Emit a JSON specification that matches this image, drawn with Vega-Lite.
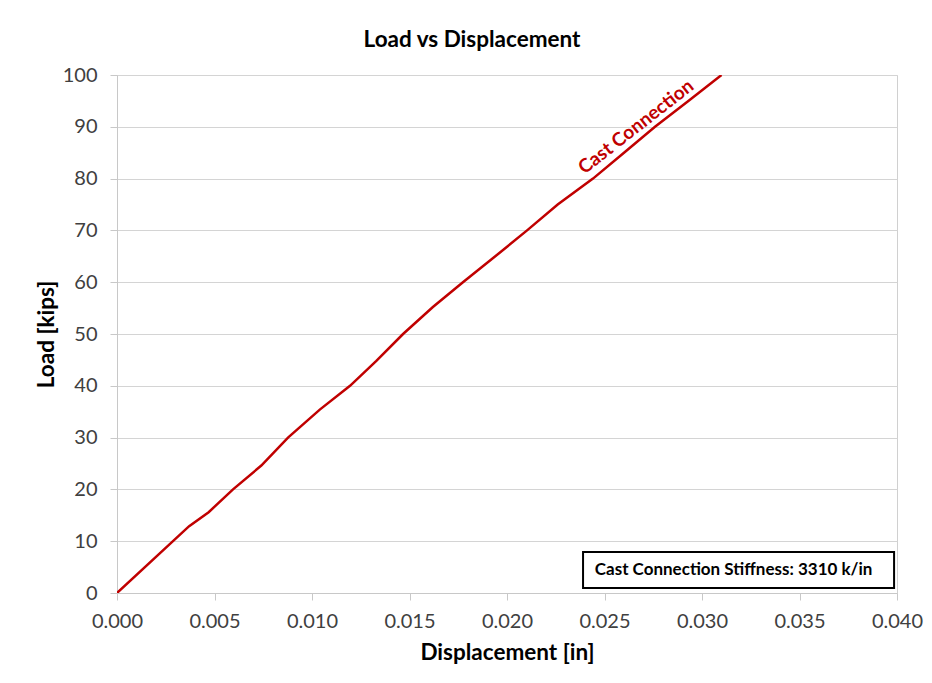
{
  "$schema": "https://vega.github.io/schema/vega-lite/v6.json",
  "width": 780,
  "height": 518,
  "autosize": "none",
  "padding": {"left": 117, "top": 75, "right": 35, "bottom": 90},
  "background": "white",
  "config": {
    "font": "Lato",
    "view": {"stroke": "#d0d0d0", "strokeWidth": 1},
    "axis": {
      "labelFont": "Lato",
      "labelFontSize": 20,
      "labelColor": "#404040",
      "labelFlush": false,
      "labelOverlap": false,
      "titleFont": "Lato",
      "titleFontWeight": "bold",
      "titleFontSize": 22.5,
      "titleColor": "#000000",
      "domainColor": "#c8c8c8",
      "tickColor": "#c8c8c8",
      "tickSize": 7,
      "gridColor": "#d4d4d4",
      "gridWidth": 1
    }
  },
  "title": {
    "text": "Load vs Displacement",
    "font": "Lato",
    "fontSize": 22.5,
    "fontWeight": "bold",
    "color": "#000000",
    "anchor": "middle",
    "dx": -35,
    "offset": 14
  },
  "layer": [
    {
      "data": {
        "values": [
          {"disp": 0.0, "load": 0.0},
          {"disp": 0.0037, "load": 12.9},
          {"disp": 0.0047, "load": 15.6},
          {"disp": 0.00595, "load": 20.0},
          {"disp": 0.0074, "load": 24.6},
          {"disp": 0.00877, "load": 30.0},
          {"disp": 0.0104, "load": 35.4},
          {"disp": 0.01195, "load": 40.0},
          {"disp": 0.0133, "load": 44.8},
          {"disp": 0.01467, "load": 50.0},
          {"disp": 0.0162, "load": 55.2},
          {"disp": 0.01774, "load": 60.0},
          {"disp": 0.0194, "load": 65.0},
          {"disp": 0.02103, "load": 70.0},
          {"disp": 0.0226, "load": 75.0},
          {"disp": 0.02441, "load": 80.0},
          {"disp": 0.0260, "load": 85.0},
          {"disp": 0.02759, "load": 90.0},
          {"disp": 0.0293, "load": 95.0},
          {"disp": 0.0310, "load": 100.0}
        ]
      },
      "mark": {"type": "line", "color": "#C00000", "strokeWidth": 2.5, "clip": true},
      "encoding": {
        "x": {
          "field": "disp",
          "type": "quantitative",
          "scale": {"domain": [0, 0.04], "nice": false, "zero": false},
          "axis": {
            "title": "Displacement [in]",
            "format": ".3f",
            "values": [0, 0.005, 0.01, 0.015, 0.02, 0.025, 0.03, 0.035, 0.04],
            "grid": false,
            "labelPadding": 11,
            "titlePadding": 10
          }
        },
        "y": {
          "field": "load",
          "type": "quantitative",
          "scale": {"domain": [0, 100], "nice": false},
          "axis": {
            "title": "Load [kips]",
            "values": [0, 10, 20, 30, 40, 50, 60, 70, 80, 90, 100],
            "grid": true,
            "labelPadding": 13,
            "titlePadding": 4
          }
        }
      }
    },
    {
      "data": {"values": [{"disp": 0.02662, "load": 90.0, "label": "Cast Connection"}]},
      "mark": {"type": "text", "color": "#C00000", "fontSize": 19, "fontWeight": "bold", "font": "Lato", "angle": 322, "align": "center", "baseline": "middle"},
      "encoding": {
        "x": {"field": "disp", "type": "quantitative"},
        "y": {"field": "load", "type": "quantitative"},
        "text": {"field": "label"}
      }
    },
    {
      "data": {"values": [{"x1": 0.0239, "x2": 0.03985, "y1": 7.92, "y2": 0.97}]},
      "mark": {"type": "rect", "fill": "white", "stroke": "#000000", "strokeWidth": 2},
      "encoding": {
        "x": {"field": "x1", "type": "quantitative"},
        "x2": {"field": "x2"},
        "y": {"field": "y1", "type": "quantitative"},
        "y2": {"field": "y2"}
      }
    },
    {
      "data": {"values": [{"disp": 0.03162, "load": 4.44, "label": "Cast Connection Stiffness: 3310 k/in"}]},
      "mark": {"type": "text", "color": "#000000", "fontSize": 17, "fontWeight": "bold", "font": "Lato", "align": "center", "baseline": "middle"},
      "encoding": {
        "x": {"field": "disp", "type": "quantitative"},
        "y": {"field": "load", "type": "quantitative"},
        "text": {"field": "label"}
      }
    }
  ]
}
